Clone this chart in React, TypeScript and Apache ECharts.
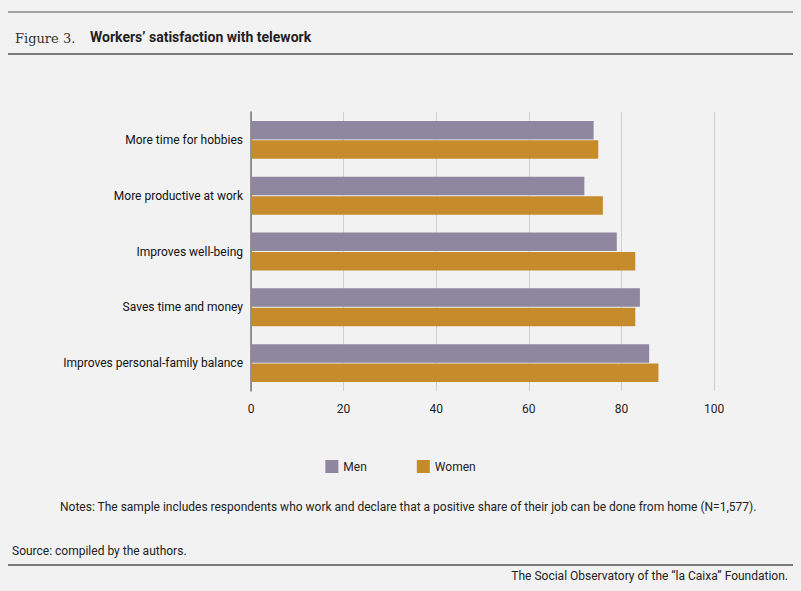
import React, { useEffect, useRef } from "react";
import * as echarts from "echarts";

const categories = [
  "More time for hobbies",
  "More productive at work",
  "Improves well-being",
  "Saves time and money",
  "Improves personal-family balance",
];
const men = [74, 72, 79, 84, 86];
const women = [75, 76, 83, 83, 88];

const App = () => {
  const ref = useRef<HTMLDivElement>(null);
  useEffect(() => {
    document.body.style.margin = "0";
    const chart = echarts.init(ref.current, null, { renderer: "svg" });
    const font = "Roboto";
    chart.setOption({
      animation: false,
      backgroundColor: "#f2f2f2",
      textStyle: { fontFamily: font },
      graphic: [
        { type: "line", shape: { x1: 8, y1: 12, x2: 793, y2: 12 }, style: { stroke: "#555", lineWidth: 1 } },
        { type: "text", left: 15, top: 32, style: { text: "Figure 3.", font: "13px 'DejaVu Serif'", fill: "#333" } },
        { type: "text", left: 90, top: 30, style: { text: "Workers’ satisfaction with telework", font: "bold 14px Roboto", fill: "#222" } },
        { type: "line", shape: { x1: 8, y1: 54, x2: 793, y2: 54 }, style: { stroke: "#555", lineWidth: 1.5 } },
        { type: "text", left: 60, top: 501, style: { text: "Notes: The sample includes respondents who work and declare that a positive share of their job can be done from home (N=1,577).", font: "12px Roboto", fill: "#222" } },
        { type: "text", left: 12, top: 545, style: { text: "Source: compiled by the authors.", font: "12px Roboto", fill: "#222" } },
        { type: "line", shape: { x1: 8, y1: 565, x2: 793, y2: 565 }, style: { stroke: "#555", lineWidth: 1.5 } },
        { type: "text", right: 13, top: 570, style: { text: "The Social Observatory of the “la Caixa” Foundation.", font: "12px Roboto", fill: "#222" } },
      ],
      legend: {
        top: 455,
        left: "center",
        itemGap: 50,
        itemWidth: 13,
        itemHeight: 13,
        icon: "rect",
        textStyle: { fontSize: 12, color: "#222", fontFamily: font },
        data: ["Men", "Women"],
      },
      grid: { left: 251, right: 87, top: 112, bottom: 200, containLabel: false },
      xAxis: {
        type: "value",
        min: 0,
        max: 100,
        interval: 20,
        axisLine: { show: false },
        axisTick: { show: false },
        axisLabel: { color: "#222", fontSize: 12, margin: 12 },
        splitLine: { lineStyle: { color: "#d0d0d0" } },
      },
      yAxis: {
        type: "category",
        inverse: true,
        data: categories,
        axisLine: { lineStyle: { color: "#777", width: 1.5 } },
        axisTick: { show: false },
        axisLabel: { color: "#111", fontSize: 12, margin: 8 },
      },
      series: [
        { name: "Men", type: "bar", data: men, itemStyle: { color: "#8f86a0" }, barGap: "5%", barCategoryGap: "32%" },
        { name: "Women", type: "bar", data: women, itemStyle: { color: "#c68b2b" } },
      ],
    });
    return () => chart.dispose();
  }, []);
  return <div ref={ref} style={{ width: 801, height: 591 }} />;
};

export default App;
